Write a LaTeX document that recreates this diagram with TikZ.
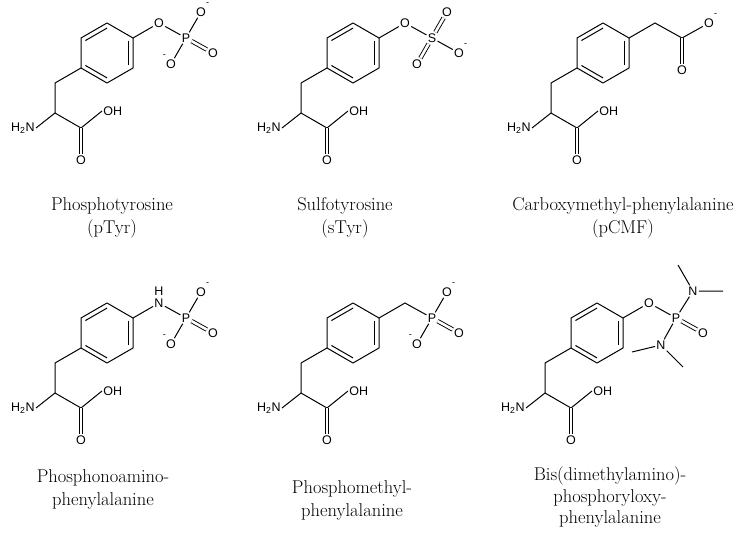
\documentclass[tikz,border=0pt]{standalone}
\usepackage{fontspec}
\newfontfamily\atomfont{Liberation Sans}
\usetikzlibrary{calc}
\tikzset{
  bond/.style={line width=1pt},
  dbl/.style={double, double distance=2.6pt, line width=0.9pt},
  atom/.style={font=\atomfont\fontsize{12.5}{12.5}\selectfont, inner sep=1.2pt},
  chgR/.style={label={[font=\atomfont\fontsize{9}{9}\selectfont,inner sep=0pt]50:-}},
  chgL/.style={label={[font=\atomfont\fontsize{9}{9}\selectfont,inner sep=0pt]130:-}},
  captxt/.style={font=\fontsize{18.5}{23}\selectfont, align=center}
}
\newcommand{\backbone}{%
  \coordinate (r1) at (0,0); \coordinate (r2) at (26,15); \coordinate (r3) at (26,45);
  \coordinate (r4) at (0,60); \coordinate (r5) at (-26,45); \coordinate (r6) at (-26,15);
  \coordinate (rc) at (0,30);
  \draw[bond,line join=round] (r1)--(r2)--(r3)--(r4)--(r5)--(r6)--cycle;
  \draw[bond] ($(r1)!0.17!(rc)$)--($(r6)!0.17!(rc)$);
  \draw[bond] ($(r2)!0.17!(rc)$)--($(r3)!0.17!(rc)$);
  \draw[bond] ($(r4)!0.17!(rc)$)--($(r5)!0.17!(rc)$);
  \coordinate (cb) at (-52,60); \coordinate (ca) at (-52,90); \coordinate (cc) at (-26,105);
  \node[atom,anchor=east] (nh) at (-71,105) {H\textsubscript{2}N};
  \node[atom] (od) at (-26,137) {O};
  \node[atom,anchor=west] (oh) at (-5,88) {OH};
  \draw[bond] (r5)--(cb)--(ca)--(nh.east);
  \draw[bond] (ca)--(cc)--(oh.west);
  \draw[dbl] (cc)--(od);
}
\newcommand{\phos}{%
  \node[atom] (p) at (79,15) {P};
  \node[atom,chgR] (oa) at (94,-11) {O};
  \node[atom,chgL] (ob) at (64,41) {O};
  \node[atom] (oc) at (106,30) {O};
  \draw[bond] (p)--(oa); \draw[bond] (p)--(ob); \draw[dbl] (p)--(oc);
}
\begin{document}
\begin{tikzpicture}[x=1pt,y=-1pt]
\fill[white] (0,0) rectangle (744,538);
% 1 pTyr
\begin{scope}[shift={(107,23)},name prefix=a-]
\backbone \phos
\node[atom] (o1) at (52,0) {O};
\draw[bond] (r2)--(o1)--(p);
\end{scope}
% 2 sTyr
\begin{scope}[shift={(353,23)},name prefix=b-]
\backbone
\node[atom] (o1) at (52,0) {O};
\node[atom] (s) at (79,15) {S};
\node[atom] (oa) at (94,-11) {O};
\node[atom] (ob) at (64,41) {O};
\node[atom,chgR] (oc) at (106,30) {O};
\draw[bond] (r2)--(o1)--(s);
\draw[dbl] (s)--(oa); \draw[dbl] (s)--(ob); \draw[bond] (s)--(oc);
\end{scope}
% 3 pCMF
\begin{scope}[shift={(603,23)},name prefix=c-]
\backbone
\coordinate (c1) at (52,0); \coordinate (c2) at (79,15);
\node[atom,chgR] (oa) at (106,0) {O};
\node[atom] (ob) at (79,47) {O};
\draw[bond] (r2)--(c1)--(c2)--(oa);
\draw[dbl] (c2)--(ob);
\end{scope}
% 4
\begin{scope}[shift={(107,303)},name prefix=d-]
\backbone \phos
\node[atom] (n1) at (52,0) {N};
\node[atom,anchor=south] (h1) at (n1.north) {H};
\draw[bond] (r2)--(n1)--(p);
\end{scope}
% 5
\begin{scope}[shift={(353,303)},name prefix=e-]
\backbone \phos
\coordinate (c1) at (52,0);
\draw[bond] (r2)--(c1)--(p);
\end{scope}
% 6
\begin{scope}[shift={(597,303)},name prefix=f-]
\backbone
\node[atom] (o1) at (52,0) {O};
\node[atom] (p) at (79,15) {P};
\node[atom] (na) at (96,-12) {N};
\node[atom] (oc) at (106,30) {O};
\node[atom] (nb) at (64,42) {N};
\coordinate (m1) at (81,-38); \coordinate (m2) at (126,-12);
\coordinate (m3) at (35,49); \coordinate (m4) at (86,64);
\draw[bond] (r2)--(o1)--(p);
\draw[bond] (p)--(na); \draw[bond] (p)--(nb); \draw[dbl] (p)--(oc);
\draw[bond] (m1)--(na)--(m2);
\draw[bond] (m3)--(nb)--(m4);
\end{scope}
% captions
\node[captxt] (t1) at (112,218) {Phosphotyrosine\\(pTyr)};
\node[captxt] (t2) at (345,218) {Sulfotyrosine\\(sTyr)};
\node[captxt] (t3) at (623,218) {Carboxymethyl-phenylalanine\\(pCMF)};
\node[captxt] (t4) at (103,489) {Phosphonoamino-\\phenylalanine};
\node[captxt] (t5) at (352,500) {Phosphomethyl-\\phenylalanine};
\node[captxt,font=\fontsize{18.5}{21.5}\selectfont] (t6) at (610,497) {Bis(dimethylamino)-\\phosphoryloxy-\\phenylalanine};
\end{tikzpicture}
\end{document}
